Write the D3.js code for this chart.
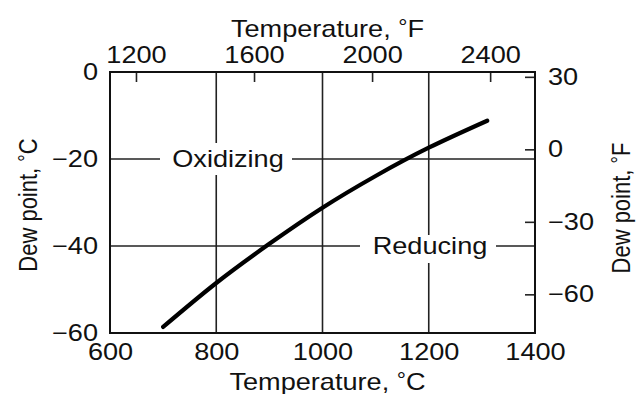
<!DOCTYPE html>
<html><head><meta charset="utf-8">
<script src="https://cdn.jsdelivr.net/npm/d3@7"></script>
<style>body{margin:0;background:#fff}svg{display:block}text{font-family:"Liberation Sans",Arial,Helvetica,sans-serif;fill:#111}</style>
</head><body>
<script>
// Data
const tempC = [700, 800, 900, 1000, 1100, 1200, 1310];
const dewC = [-58.6, -48.5, -39.5, -31.2, -23.9, -17.4, -11.2];
const xTicksC = [600, 800, 1000, 1200, 1400];
const xTicksF = [1200, 1600, 2000, 2400];
const yTicksC = [0, -20, -40, -60];
const yTicksF = [30, 0, -30, -60];
const gridX = [800, 1000, 1200];
const gridY = [-20, -40];
const regionLabels = ["Oxidizing", "Reducing"];

const W = 636, H = 394, FS = 23, SX = 1.18;
const svg = d3.select("body").append("svg").attr("width", W).attr("height", H);
const L = 110, R = 535, T = 72, B = 333;
const x = d3.scaleLinear([600, 1400], [L, R]);
const y = d3.scaleLinear([-60, 0], [B, T]);
const c2f = c => c * 9 / 5 + 32;
const xF = d3.scaleLinear([c2f(600), c2f(1400)], [L, R]);
const yF = d3.scaleLinear([c2f(-60), c2f(0)], [B, T]);
const fmt = d => d < 0 ? "\u2212" + Math.abs(d) : String(d);

// grid
const g = svg.append("g").attr("stroke", "#222").attr("stroke-width", 1.6);
gridX.forEach(v => g.append("line").attr("x1", x(v)).attr("x2", x(v)).attr("y1", T).attr("y2", B));
gridY.forEach(v => g.append("line").attr("x1", L).attr("x2", R).attr("y1", y(v)).attr("y2", y(v)));

function stretchText(sel, anchorX) {
  sel.selectAll("text").attr("font-size", FS).attr("font-family", null)
    .attr("x", anchorX / SX).attr("transform", `scale(${SX},1)`).attr("fill", "#111");
}

// region labels with white boxes
const lab = [
  {t: regionLabels[0], cx: 228, cy: y(-20), x0: 160, x1: 292, y0: 143, y1: 175},
  {t: regionLabels[1], cx: 430, cy: y(-40), x0: 360, x1: 496, y0: 235, y1: 263}
];
lab.forEach(d => {
  svg.append("rect").attr("x", d.x0).attr("y", d.y0).attr("width", d.x1 - d.x0).attr("height", d.y1 - d.y0).attr("fill", "#fff");
  svg.append("text").attr("transform", `translate(${d.cx},${d.cy + 8}) scale(${SX},1)`)
    .attr("text-anchor", "middle").attr("font-size", FS).text(d.t);
});

// axes
const ax = svg.append("g").attr("transform", `translate(0,${B})`)
  .call(d3.axisBottom(x).tickValues(xTicksC).tickSize(0).tickPadding(10.5).tickFormat(fmt));
ax.select(".domain").remove(); stretchText(ax, 0);

const at = svg.append("g").attr("transform", `translate(0,${T})`)
  .call(d3.axisTop(xF).tickValues(xTicksF).tickSizeInner(-10).tickSizeOuter(0).tickPadding(9).tickFormat(fmt));
at.select(".domain").remove(); at.selectAll("line").attr("stroke", "#222").attr("stroke-width", 1.6);
stretchText(at, 0);

const al = svg.append("g").attr("transform", `translate(${L},0)`)
  .call(d3.axisLeft(y).tickValues(yTicksC).tickSize(0).tickPadding(12).tickFormat(fmt));
al.select(".domain").remove(); stretchText(al, -12);

const ar = svg.append("g").attr("transform", `translate(${R},0)`)
  .call(d3.axisRight(yF).tickValues(yTicksF).tickSizeInner(-10).tickSizeOuter(0).tickPadding(13).tickFormat(fmt));
ar.select(".domain").remove(); ar.selectAll("line").attr("stroke", "#222").attr("stroke-width", 1.6);
stretchText(ar, 13);

// frame
svg.append("rect").attr("x", L).attr("y", T).attr("width", R - L).attr("height", B - T)
  .attr("fill", "none").attr("stroke", "#111").attr("stroke-width", 2);

// titles with raised degree sign
function title(tr, fs, unit, anchorMid) {
  const t = svg.append("text").attr("transform", tr).attr("text-anchor", "middle").attr("font-size", fs);
  t.append("tspan").text(anchorMid + " ");
  t.append("tspan").attr("font-size", fs * 0.85).attr("dy", -fs * 0.12).text("\u00B0");
  t.append("tspan").attr("dy", fs * 0.12).text(unit);
}
title(`translate(${(L + R) / 2 + 5},390) scale(${SX},1)`, FS, "C", "Temperature,");
title(`translate(${(L + R) / 2 + 5},37) scale(${SX},1)`, FS, "F", "Temperature,");
title(`translate(37,205) rotate(-90) scale(1,${SX})`, 22, "C", "Dew point,");
title(`translate(630,208) rotate(-90) scale(1,${SX})`, 22, "F", "Dew point,");

// curve
const pts = tempC.map((t, i) => [t, dewC[i]]);
svg.append("path").datum(pts)
  .attr("d", d3.line().x(d => x(d[0])).y(d => y(d[1])).curve(d3.curveNatural))
  .attr("fill", "none").attr("stroke", "#000").attr("stroke-width", 4.2).attr("stroke-linecap", "round");
</script>
</body></html>
